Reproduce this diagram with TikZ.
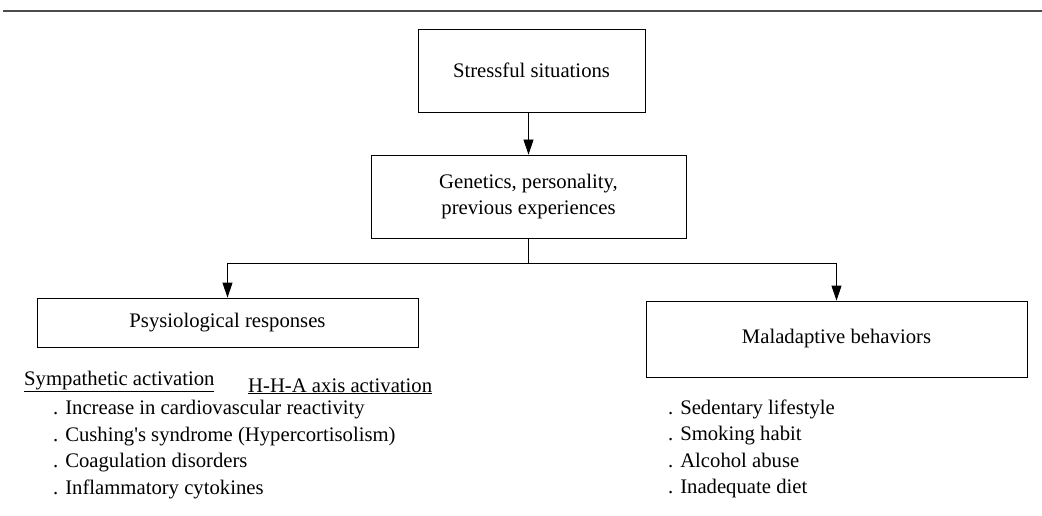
\documentclass[tikz,border=0pt]{standalone}
\usepackage{fontspec}
\setmainfont{Liberation Serif}
\usetikzlibrary{arrows.meta}
\begin{document}
\begin{tikzpicture}[x=1pt,y=-1pt,
    box/.style={draw, line width=0.8pt, inner sep=0pt, align=center, font=\fontsize{20.7}{26}\selectfont},
    txt/.style={anchor=base west, inner sep=0pt, font=\fontsize{20.7}{25}\selectfont},
    arr/.style={-{Triangle[length=15pt,width=10pt]}, line width=0.8pt}]
    \useasboundingbox (0,0) rectangle (1042,516);
    
    \draw[line width=1.2pt, black!70] (3,11) -- (1042,11);
    
    \node[box, minimum width=227pt, minimum height=83pt] (stress) at (531.5,70.5) {Stressful situations};
    \node[box, minimum width=315pt, minimum height=83pt] (genes) at (528.5,196.5) {Genetics, personality,\\previous experiences};
    \node[box, minimum width=381pt, minimum height=49pt] (physio) at (227.5,322.5) {Psysiological responses};
    \node[box, minimum width=381pt, minimum height=76pt] (malad) at (836.5,339) {Maladaptive behaviors};
    
    \draw[arr] (stress.south -| genes.north) -- (genes.north);
    \draw[line width=0.8pt] (genes.south) -- ++(0,25) coordinate (split);
    \draw[arr] (split) -| (physio.north);
    \draw[arr] (split) -| (malad.north);
    
    \node[txt] (sympa) at (24,385) {\underline{Sympathetic activation}};
    \node[txt] (hha) at (248,392) {\underline{H-H-A axis activation}};
    \node[txt] (p1) at (53,414) {. Increase in cardiovascular reactivity};
    \node[txt] (p2) at (53,441) {. Cushing\textquotesingle s syndrome (Hypercortisolism)};
    \node[txt] (p3) at (53,467) {. Coagulation disorders};
    \node[txt] (p4) at (53,494) {. Inflammatory cytokines};
    
    \node[txt] (m1) at (668,414) {. Sedentary lifestyle};
    \node[txt] (m2) at (668,440) {. Smoking habit};
    \node[txt] (m3) at (668,467) {. Alcohol abuse};
    \node[txt] (m4) at (668,493) {. Inadequate diet};
\end{tikzpicture}
\end{document}
